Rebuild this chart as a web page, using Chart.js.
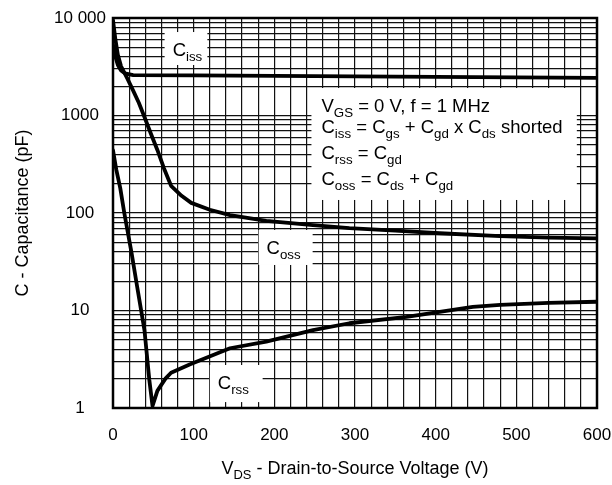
<!DOCTYPE html>
<html><head><meta charset="utf-8">
<script src="https://cdn.jsdelivr.net/npm/chart.js@4/dist/chart.umd.min.js"></script>
<style>html,body{margin:0;padding:0;background:#fff}canvas{display:block}</style>
</head><body>
<canvas id="c" width="612" height="485"></canvas>
<script>
// ---- data ----
const vdsCiss = [0, 3, 6, 10, 15, 25, 100, 300, 450, 600];
const ciss    = [5300, 4000, 3300, 2900, 2700, 2600, 2580, 2520, 2480, 2430];

const vdsCoss = [0, 3, 6, 10, 18, 25, 32, 39, 47, 55, 63, 72, 85, 97, 120, 145, 190, 248, 293, 350, 405, 480, 540, 600];
const coss    = [9500, 6000, 4200, 3200, 2370, 1800, 1350, 966, 650, 443, 290, 190, 150, 127, 108, 95, 83, 75, 70, 66, 62, 58, 56, 55];

const vdsCrss = [0, 4, 9, 14, 23, 30, 39, 45, 49, 55, 65, 72, 95, 145, 190, 248, 293, 364, 446, 480, 540, 600];
const crss    = [440, 280, 180, 100, 39, 17.4, 6.3, 1.95, 1.05, 1.5, 2.0, 2.3, 2.8, 4.1, 4.8, 6.3, 7.4, 8.6, 10.9, 11.4, 12, 12.3];

const yTickValues = [1, 10, 100, 1000, 10000];
const yTickLabels = ['1', '10', '100', '1000', '10 000'];
const xTickValues = [0, 100, 200, 300, 400, 500, 600];
const xGridStep = 20;
const yMinorSteps = [1, 2, 3, 4, 5, 6, 7, 8, 9];

const yTitle = 'C - Capacitance (pF)';
const xTitle = [['V', 0], ['DS', 1], [' - Drain-to-Source Voltage (V)', 0]];
const legendLines = [
  [['V', 0], ['GS', 1], [' = 0 V, f = 1 MHz', 0]],
  [['C', 0], ['iss', 1], [' = C', 0], ['gs', 1], [' + C', 0], ['gd', 1], [' x C', 0], ['ds', 1], [' shorted', 0]],
  [['C', 0], ['rss', 1], [' = C', 0], ['gd', 1]],
  [['C', 0], ['oss', 1], [' = C', 0], ['ds', 1], [' + C', 0], ['gd', 1]]
];
const curveLabels = [
  {parts: [['C', 0], ['iss', 1]], x0: 64, x1: 117, y0: 7180, y1: 3297},
  {parts: [['C', 0], ['oss', 1]], x0: 180.5, x1: 247.5, y0: 67, y1: 29.3},
  {parts: [['C', 0], ['rss', 1]], x0: 120, x1: 185.5, y0: 2.76, y1: 1.15}
];
const legendBox = {x0: 246, x1: 575, y0: 1914, y1: 136};

// ---- helpers ----
const FONT = '"Liberation Sans", Arial, Helvetica, sans-serif';
const toXY = (xs, ys) => xs.map((v, i) => ({x: v, y: ys[i]}));

function richWidth(ctx, parts, size) {
  let w = 0;
  for (const [t, sub] of parts) {
    ctx.font = (sub ? size * 0.72 : size) + 'px ' + FONT;
    w += ctx.measureText(t).width;
  }
  return w;
}
function richText(ctx, parts, x, y, size) {
  let cx = x;
  ctx.textAlign = 'left';
  ctx.textBaseline = 'alphabetic';
  for (const [t, sub] of parts) {
    ctx.font = (sub ? size * 0.72 : size) + 'px ' + FONT;
    ctx.fillText(t, cx, sub ? y + size * 0.27 : y);
    cx += ctx.measureText(t).width;
  }
}

const annot = {
  id: 'annot',
  beforeDatasetsDraw(chart) {
    const {ctx, scales: {x, y}} = chart;
    ctx.save();
    ctx.fillStyle = '#fff';
    const rect = b => {
      const l = x.getPixelForValue(b.x0), r = x.getPixelForValue(b.x1);
      const t = y.getPixelForValue(b.y0), bo = y.getPixelForValue(b.y1);
      ctx.fillRect(l, t, r - l, bo - t);
    };
    rect(legendBox);
    curveLabels.forEach(rect);
    ctx.restore();
  },
  afterDatasetsDraw(chart) {
    const {ctx, chartArea: a, scales: {x, y}} = chart;
    ctx.save();
    ctx.strokeStyle = '#000';
    ctx.lineWidth = 2.5;
    ctx.strokeRect(a.left, a.top, a.right - a.left, a.bottom - a.top);
    ctx.fillStyle = '#000';
    for (const c of curveLabels) {
      richText(ctx, c.parts, x.getPixelForValue(c.x0) + 8, y.getPixelForValue(c.y0) + 24, 18.5);
    }
    const lx = x.getPixelForValue(legendBox.x0) + 10;
    const ty = y.getPixelForValue(legendBox.y0);
    const offs = [24, 45, 71, 97];
    legendLines.forEach((ln, i) => richText(ctx, ln, lx, ty + offs[i], 18.5));
    // x-axis title
    const w = richWidth(ctx, xTitle, 18);
    richText(ctx, xTitle, (a.left + a.right) / 2 - w / 2, 474, 18);
    ctx.restore();
  }
};

const yGrid = [];
for (let k = 0; k < 4; k++) for (const m of yMinorSteps) yGrid.push(m * Math.pow(10, k));
yGrid.push(10000);

const line = (d) => ({data: d, borderColor: '#000', borderWidth: 3.8, pointRadius: 0, tension: 0, fill: false, borderJoinStyle: 'round', borderCapStyle: 'round'});

new Chart(document.getElementById('c'), {
  type: 'line',
  data: {datasets: [line(toXY(vdsCiss, ciss)), line(toXY(vdsCoss, coss)), line(toXY(vdsCrss, crss))]},
  options: {
    responsive: false, animation: false, devicePixelRatio: 1,
    layout: {padding: {top: 18, right: 0, left: 0, bottom: 0}},
    plugins: {legend: {display: false}, tooltip: {enabled: false}},
    scales: {
      x: {
        type: 'linear', min: 0, max: 600,
        ticks: {stepSize: xGridStep, autoSkip: false, maxRotation: 0,
          callback: v => xTickValues.includes(v) ? String(v) : '',
          font: {family: FONT, size: 17}, color: '#000', padding: 17},
        grid: {color: '#111', lineWidth: 1.2, drawTicks: false},
        border: {display: false},
        afterFit(s) { s.height = 77; s.paddingRight = 15; s.paddingLeft = 0; }
      },
      y: {
        type: 'logarithmic', min: 1, max: 10000,
        afterBuildTicks(s) { s.ticks = yGrid.map(v => ({value: v})); },
        ticks: {autoSkip: false, crossAlign: 'center',
          callback: v => { const i = yTickValues.indexOf(v); return i >= 0 ? yTickLabels[i] : ''; },
          font: {family: FONT, size: 17}, color: '#000', padding: 7},
        grid: {color: '#111', lineWidth: 1.2, drawTicks: false},
        border: {display: false},
        title: {display: true, text: yTitle, font: {family: FONT, size: 18}, color: '#000', padding: {top: 12, bottom: 0}},
        afterFit(s) { s.width = 113; }
      }
    }
  },
  plugins: [annot]
});
</script>
</body></html>
